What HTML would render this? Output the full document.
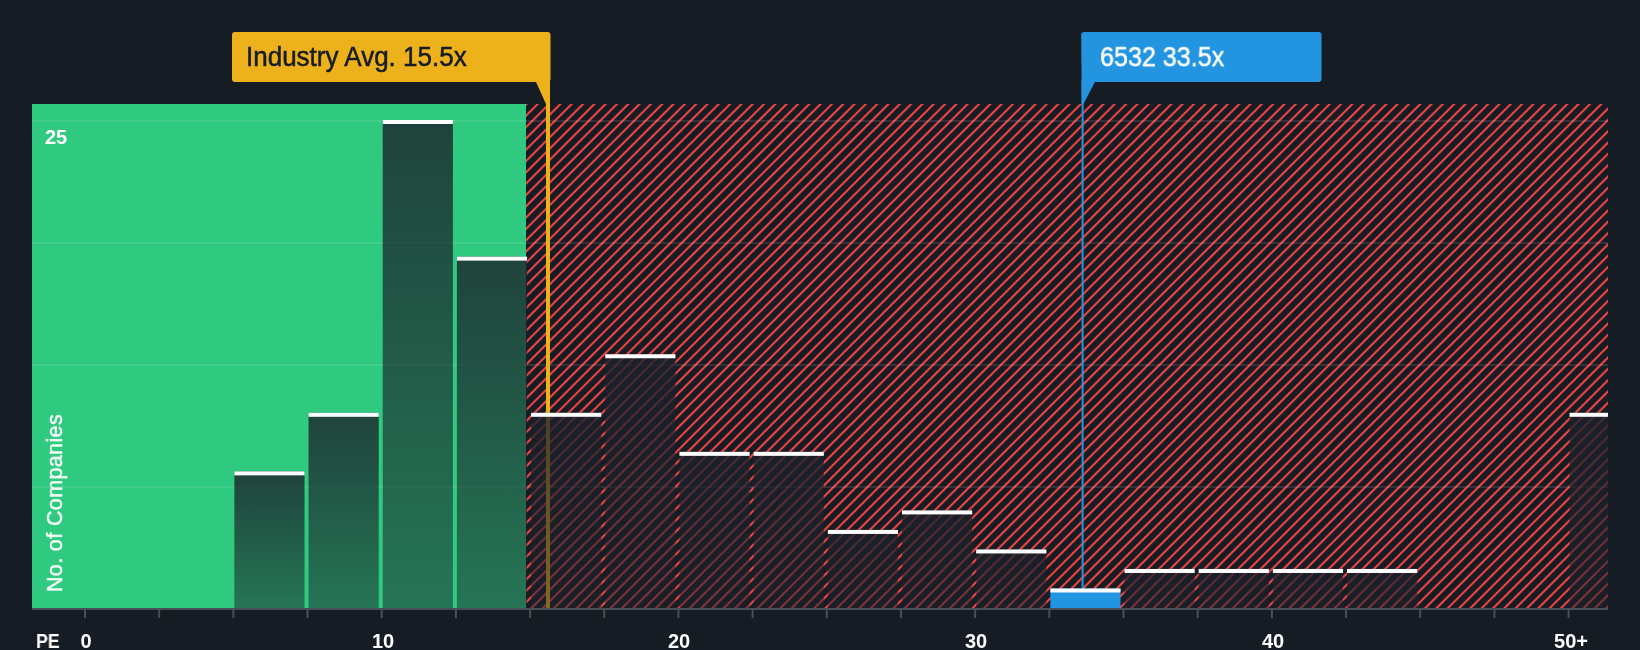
<!DOCTYPE html>
<html><head><meta charset="utf-8"><style>
html,body{margin:0;padding:0;}
body{width:1640px;height:650px;overflow:hidden;background:#161c23;position:relative;font-family:"Liberation Sans",sans-serif;}
svg{position:absolute;left:0;top:0;}
.t{position:absolute;white-space:nowrap;will-change:transform;}
.xl{will-change:transform;position:absolute;top:626px;width:100px;text-align:center;font-weight:bold;font-size:20px;line-height:30px;color:#fff;}
</style></head><body>
<svg width="1640" height="650" viewBox="0 0 1640 650">
<defs><pattern id="hatch" patternUnits="userSpaceOnUse" width="8" height="8" patternTransform="translate(8.24,0) rotate(45)"><rect x="-1" y="-1" width="10" height="10" fill="#161c23"/><rect x="-1.05" y="-1" width="2.1" height="10" fill="#ee4444"/><rect x="6.95" y="-1" width="2.1" height="10" fill="#ee4444"/></pattern><linearGradient id="barg" x1="0" y1="0" x2="0" y2="1"><stop offset="0" stop-color="#1b212b" stop-opacity="0.8"/><stop offset="1" stop-color="#1b212b" stop-opacity="0.5"/></linearGradient><clipPath id="plot"><rect x="32" y="104" width="1576" height="504"/></clipPath></defs>
<rect x="32" y="104" width="494" height="504" fill="#2fc97f"/>
<rect x="526" y="104" width="1082" height="504" fill="url(#hatch)"/>
<rect x="32" y="120" width="1576" height="2" fill="#ffffff" fill-opacity="0.1"/>
<rect x="32" y="242" width="1576" height="2" fill="#ffffff" fill-opacity="0.1"/>
<rect x="32" y="364" width="1576" height="2" fill="#ffffff" fill-opacity="0.1"/>
<rect x="32" y="486" width="1576" height="2" fill="#ffffff" fill-opacity="0.1"/>
<rect x="546" y="80" width="4" height="528" fill="#edb11c"/>
<rect x="1081.6" y="80" width="2" height="510" fill="#2394df"/>
<g clip-path="url(#plot)">
<rect x="234.36" y="471.36" width="70.18" height="136.64" fill="url(#barg)"/>
<rect x="234.36" y="471.36" width="70.18" height="4" fill="#ffffff"/>
<rect x="308.54" y="412.80" width="70.18" height="195.20" fill="url(#barg)"/>
<rect x="308.54" y="412.80" width="70.18" height="4" fill="#ffffff"/>
<rect x="382.72" y="120.00" width="70.18" height="488.00" fill="url(#barg)"/>
<rect x="382.72" y="120.00" width="70.18" height="4" fill="#ffffff"/>
<rect x="456.90" y="256.64" width="70.18" height="351.36" fill="url(#barg)"/>
<rect x="456.90" y="256.64" width="70.18" height="4" fill="#ffffff"/>
<rect x="531.08" y="412.80" width="70.18" height="195.20" fill="url(#barg)"/>
<rect x="531.08" y="412.80" width="70.18" height="4" fill="#ffffff"/>
<rect x="605.26" y="354.24" width="70.18" height="253.76" fill="url(#barg)"/>
<rect x="605.26" y="354.24" width="70.18" height="4" fill="#ffffff"/>
<rect x="679.44" y="451.84" width="70.18" height="156.16" fill="url(#barg)"/>
<rect x="679.44" y="451.84" width="70.18" height="4" fill="#ffffff"/>
<rect x="753.62" y="451.84" width="70.18" height="156.16" fill="url(#barg)"/>
<rect x="753.62" y="451.84" width="70.18" height="4" fill="#ffffff"/>
<rect x="827.80" y="529.92" width="70.18" height="78.08" fill="url(#barg)"/>
<rect x="827.80" y="529.92" width="70.18" height="4" fill="#ffffff"/>
<rect x="901.98" y="510.40" width="70.18" height="97.60" fill="url(#barg)"/>
<rect x="901.98" y="510.40" width="70.18" height="4" fill="#ffffff"/>
<rect x="976.16" y="549.44" width="70.18" height="58.56" fill="url(#barg)"/>
<rect x="976.16" y="549.44" width="70.18" height="4" fill="#ffffff"/>
<rect x="1050.34" y="588.48" width="70.18" height="19.52" fill="#2394df"/>
<rect x="1050.34" y="588.48" width="70.18" height="4" fill="#ffffff"/>
<rect x="1124.52" y="568.96" width="70.18" height="39.04" fill="url(#barg)"/>
<rect x="1124.52" y="568.96" width="70.18" height="4" fill="#ffffff"/>
<rect x="1198.70" y="568.96" width="70.18" height="39.04" fill="url(#barg)"/>
<rect x="1198.70" y="568.96" width="70.18" height="4" fill="#ffffff"/>
<rect x="1272.88" y="568.96" width="70.18" height="39.04" fill="url(#barg)"/>
<rect x="1272.88" y="568.96" width="70.18" height="4" fill="#ffffff"/>
<rect x="1347.06" y="568.96" width="70.18" height="39.04" fill="url(#barg)"/>
<rect x="1347.06" y="568.96" width="70.18" height="4" fill="#ffffff"/>
<rect x="1569.60" y="412.80" width="70.18" height="195.20" fill="url(#barg)"/>
<rect x="1569.60" y="412.80" width="70.18" height="4" fill="#ffffff"/>
</g>
<rect x="32" y="608" width="1576" height="2" fill="#4a4e56"/>
<rect x="84.00" y="610" width="2" height="8" fill="#4a4e56"/>
<rect x="158.18" y="610" width="2" height="8" fill="#4a4e56"/>
<rect x="232.36" y="610" width="2" height="8" fill="#4a4e56"/>
<rect x="306.54" y="610" width="2" height="8" fill="#4a4e56"/>
<rect x="380.72" y="610" width="2" height="8" fill="#4a4e56"/>
<rect x="454.90" y="610" width="2" height="8" fill="#4a4e56"/>
<rect x="529.08" y="610" width="2" height="8" fill="#4a4e56"/>
<rect x="603.26" y="610" width="2" height="8" fill="#4a4e56"/>
<rect x="677.44" y="610" width="2" height="8" fill="#4a4e56"/>
<rect x="751.62" y="610" width="2" height="8" fill="#4a4e56"/>
<rect x="825.80" y="610" width="2" height="8" fill="#4a4e56"/>
<rect x="899.98" y="610" width="2" height="8" fill="#4a4e56"/>
<rect x="974.16" y="610" width="2" height="8" fill="#4a4e56"/>
<rect x="1048.34" y="610" width="2" height="8" fill="#4a4e56"/>
<rect x="1122.52" y="610" width="2" height="8" fill="#4a4e56"/>
<rect x="1196.70" y="610" width="2" height="8" fill="#4a4e56"/>
<rect x="1270.88" y="610" width="2" height="8" fill="#4a4e56"/>
<rect x="1345.06" y="610" width="2" height="8" fill="#4a4e56"/>
<rect x="1419.24" y="610" width="2" height="8" fill="#4a4e56"/>
<rect x="1493.42" y="610" width="2" height="8" fill="#4a4e56"/>
<rect x="1567.60" y="610" width="2" height="8" fill="#4a4e56"/>
<path d="M235,32 H547.5 Q550.5,32 550.5,35 V80 H550 V104 L546,104 L536,82 H235 Q232,82 232,79 V35 Q232,32 235,32 Z" fill="#edb11c"/>
<path d="M1081.2,35 Q1081.2,32 1084.2,32 H1318.5 Q1321.5,32 1321.5,35 V79 Q1321.5,82 1318.5,82 H1095 L1083.4,104 H1081.6 V82 Z" fill="#2394df"/>
</svg>
<div class="t" style="left:246px;top:37px;font-size:26px;line-height:40px;color:#161c26;-webkit-text-stroke:0.5px #161c26;transform:scaleY(1.04);transform-origin:0 28.6px">Industry Avg. 15.5x</div>
<div class="t" style="left:1100px;top:37px;font-size:26px;line-height:40px;color:#fff;-webkit-text-stroke:0.45px #fff;transform:scale(0.965,1.03);transform-origin:0 28.6px">6532 33.5x</div>
<div class="t" style="left:44.5px;top:122px;font-size:20px;font-weight:bold;line-height:30px;color:#fff">25</div>
<div class="t" style="left:35.8px;top:626px;font-size:20px;font-weight:bold;line-height:30px;color:#fff;transform:scaleX(0.89);transform-origin:0 0">PE</div>
<div class="xl" style="left:35.5px">0</div>
<div class="xl" style="left:332.5px">10</div>
<div class="xl" style="left:629.4px">20</div>
<div class="xl" style="left:926.0px">30</div>
<div class="xl" style="left:1222.9px">40</div>
<div class="xl" style="left:1521.1px">50+</div>

<div class="t" style="left:54.5px;top:503.2px;width:0;height:0;"><div style="position:absolute;left:-100px;top:-15px;width:200px;text-align:center;font-size:21.5px;letter-spacing:0.38px;line-height:30px;color:#fff;opacity:0.92;-webkit-text-stroke:0.5px #fff;transform:rotate(-90deg)">No. of Companies</div></div>
</body></html>
